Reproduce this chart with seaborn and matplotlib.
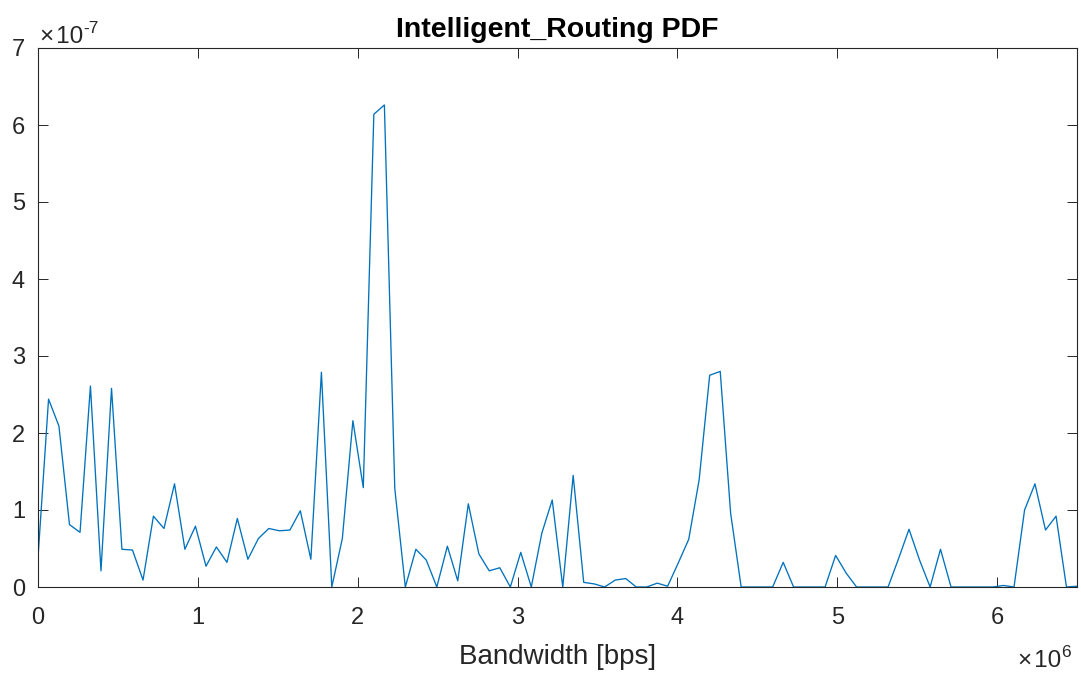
import matplotlib
matplotlib.use("Agg")
import matplotlib.pyplot as plt
import seaborn as sns
import pandas as pd

# Bandwidth bin centres, in units of 1e6 bps
bandwidth_mbps = [
    0.000, 0.066, 0.131, 0.197, 0.263, 0.328, 0.394, 0.460, 0.525, 0.591,
    0.657, 0.722, 0.788, 0.854, 0.919, 0.985, 1.051, 1.116, 1.182, 1.247,
    1.313, 1.379, 1.444, 1.510, 1.576, 1.641, 1.707, 1.773, 1.838, 1.904,
    1.970, 2.035, 2.101, 2.167, 2.232, 2.298, 2.364, 2.429, 2.495, 2.561,
    2.626, 2.692, 2.758, 2.823, 2.889, 2.955, 3.020, 3.086, 3.152, 3.217,
    3.283, 3.348, 3.414, 3.480, 3.545, 3.611, 3.677, 3.742, 3.808, 3.874,
    3.939, 4.005, 4.071, 4.136, 4.202, 4.268, 4.333, 4.399, 4.465, 4.530,
    4.596, 4.662, 4.727, 4.793, 4.859, 4.924, 4.990, 5.056, 5.121, 5.187,
    5.253, 5.318, 5.384, 5.449, 5.515, 5.581, 5.646, 5.712, 5.778, 5.843,
    5.909, 5.975, 6.040, 6.106, 6.172, 6.237, 6.303, 6.369, 6.434, 6.500,
]

# PDF values, in units of 1e-7
pdf_e7 = [
    0.38, 2.44, 2.09, 0.81, 0.71, 2.61, 0.21, 2.58, 0.49, 0.48,
    0.09, 0.92, 0.76, 1.34, 0.49, 0.79, 0.27, 0.52, 0.32, 0.89,
    0.36, 0.63, 0.76, 0.73, 0.74, 0.99, 0.36, 2.79, 0.00, 0.63,
    2.16, 1.29, 6.14, 6.26, 1.28, 0.00, 0.49, 0.35, 0.00, 0.53,
    0.08, 1.08, 0.43, 0.21, 0.25, 0.00, 0.45, 0.00, 0.70, 1.13,
    0.00, 1.45, 0.06, 0.04, 0.00, 0.09, 0.11, 0.00, 0.00, 0.05,
    0.01, 0.31, 0.62, 1.39, 2.75, 2.80, 0.96, 0.00, 0.00, 0.00,
    0.00, 0.32, 0.00, 0.00, 0.00, 0.00, 0.41, 0.18, 0.00, 0.00,
    0.00, 0.00, 0.37, 0.75, 0.35, 0.00, 0.49, 0.00, 0.00, 0.00,
    0.00, 0.00, 0.02, 0.00, 1.00, 1.34, 0.74, 0.92, 0.00, 0.01,
]

x_ticks = [0, 1, 2, 3, 4, 5, 6]
y_ticks = [0, 1, 2, 3, 4, 5, 6, 7]
title = "Intelligent_Routing PDF"
x_label = "Bandwidth [bps]"
y_exponent = "-7"
x_exponent = "6"

sns.set_theme(style="white")
plt.rcParams["font.family"] = ["Liberation Sans", "DejaVu Sans"]

df = pd.DataFrame({"bw": bandwidth_mbps, "pdf": pdf_e7})

W, H = 1081, 677
fig = plt.figure(figsize=(W / 100, H / 100), dpi=100)
ax = fig.add_axes([38 / W, (H - 587) / H, 1039 / W, 539 / H])

sns.lineplot(data=df, x="bw", y="pdf", ax=ax, color="#0072BD", linewidth=0.95)

axc = "#262626"
ax.set_xlim(0, 6.5)
ax.set_ylim(0, 7)
ax.set_xticks(x_ticks)
ax.set_yticks(y_ticks)
ax.set_xticklabels([str(t) for t in x_ticks])
ax.set_yticklabels([str(t) for t in y_ticks])
ax.tick_params(axis="both", direction="in", length=7.5, width=0.7, colors=axc,
               labelsize=17, top=True, right=True, bottom=True, left=True)
ax.tick_params(axis="x", pad=14.2)
ax.tick_params(axis="y", pad=9.3)
for s in ax.spines.values():
    s.set_visible(True)
    s.set_color(axc)
    s.set_linewidth(0.8)

ax.set_xlabel(x_label, fontsize=20, color=axc, labelpad=11)
ax.set_ylabel("")
ax.set_title(title, fontsize=20.5, fontweight="bold", color="black", pad=8)


def exponent_label(x_px, base_px, exp, ha):
    """Draw 'x10' with a raised exponent at pixel coordinates (figure)."""
    fig.canvas.draw()
    r = fig.canvas.get_renderer()
    t_exp = fig.text(0, 0, exp, fontsize=12.5, color=axc)
    t_base = fig.text(0, 0, "\u00d7\u200a10", fontsize=17.5, color=axc)
    we = t_exp.get_window_extent(r).width
    wb = t_base.get_window_extent(r).width
    if ha == "left":
        x0 = x_px
    else:
        x0 = x_px - wb - we
    t_base.set_position((x0 / W, (H - base_px) / H))
    t_base.set_va("baseline")
    t_exp.set_position(((x0 + wb) / W, (H - base_px + 10) / H))
    t_exp.set_va("baseline")


exponent_label(40, 43, y_exponent, "left")
exponent_label(1071, 667, x_exponent, "right")

fig.savefig("out.png", dpi=100)
